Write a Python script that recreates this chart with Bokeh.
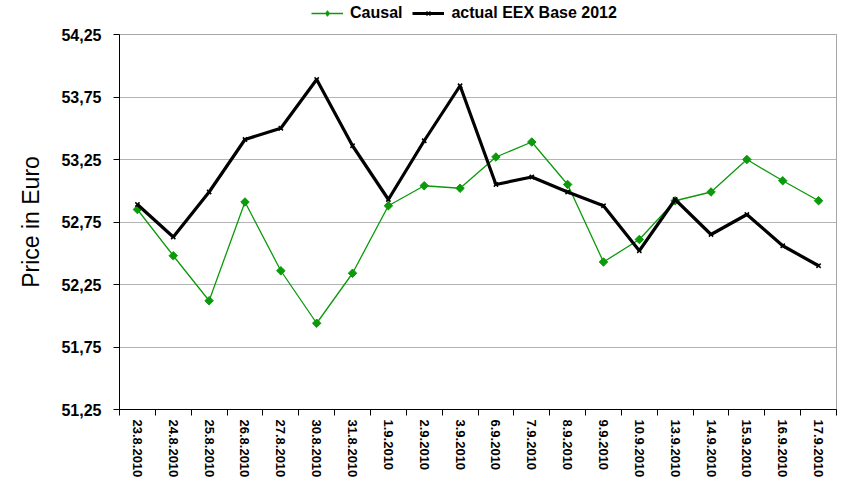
import math
from bokeh.plotting import figure
from bokeh.layouts import column
from bokeh.models import FixedTicker, Range1d, ColumnDataSource, Legend, LegendItem
from bokeh.embed import file_html
from bokeh.resources import INLINE

dates = ["23.8.2010", "24.8.2010", "25.8.2010", "26.8.2010", "27.8.2010",
         "30.8.2010", "31.8.2010", "1.9.2010", "2.9.2010", "3.9.2010",
         "6.9.2010", "7.9.2010", "8.9.2010", "9.9.2010", "10.9.2010",
         "13.9.2010", "14.9.2010", "15.9.2010", "16.9.2010", "17.9.2010"]
causal = [52.85, 52.48, 52.12, 52.91, 52.36, 51.94, 52.34, 52.88, 53.04, 53.02,
          53.27, 53.39, 53.05, 52.43, 52.61, 52.92, 52.99, 53.25, 53.08, 52.92]
actual = [52.89, 52.63, 52.99, 53.41, 53.50, 53.89, 53.36, 52.93, 53.40, 53.84,
          53.05, 53.11, 52.99, 52.88, 52.52, 52.93, 52.65, 52.81, 52.56, 52.40]
y_ticks = [51.25, 51.75, 52.25, 52.75, 53.25, 53.75, 54.25]
y_tick_labels = ["51,25", "51,75", "52,25", "52,75", "53,25", "53,75", "54,25"]
series_names = ["Causal", "actual EEX Base 2012"]

FONT = "Liberation Sans"
GREEN = "#0a9a0a"
n = len(dates)
xs = [i + 0.5 for i in range(n)]
src = ColumnDataSource(dict(x=xs, causal=causal, actual=actual))

# ---------- legend strip ----------
lf = figure(width=843, height=24, output_backend="svg", toolbar_location=None,
            x_range=Range1d(0, 1), y_range=Range1d(0, 1),
            min_border=0, min_border_left=0, min_border_right=0,
            min_border_top=0, min_border_bottom=0)
lf.axis.visible = False
lf.grid.grid_line_color = None
lf.outline_line_color = None
offscreen = ColumnDataSource(dict(x=[-10, -11], y=[-10, -11]))
l1 = lf.line("x", "y", source=offscreen, color=GREEN, line_width=1.3)
s1 = lf.scatter("x", "y", source=offscreen, marker="diamond", size=9, color=GREEN)
l2 = lf.line("x", "y", source=offscreen, color="black", line_width=3.2)
s2 = lf.scatter("x", "y", source=offscreen, marker="x", size=6, color="black",
                line_width=1.5)
leg = Legend(items=[LegendItem(label=series_names[0], renderers=[l1, s1]),
                    LegendItem(label=series_names[1], renderers=[l2, s2])],
             orientation="horizontal", location=(192, 2))
leg.label_text_font = FONT
leg.label_text_font_style = "bold"
leg.label_text_font_size = "16px"
leg.label_text_color = "black"
leg.border_line_color = None
leg.background_fill_alpha = 0
leg.glyph_width = 32
leg.glyph_height = 14
leg.label_height = 16
leg.spacing = 10
leg.padding = 2
leg.margin = 0
leg.label_standoff = 7
lf.add_layout(leg, "center")

# ---------- main chart ----------
p = figure(width=843, height=456, output_backend="svg", toolbar_location=None,
           x_range=Range1d(0, n), y_range=Range1d(51.25, 54.25),
           min_border_left=119, min_border_right=7, min_border_top=10,
           min_border_bottom=0)
p.background_fill_color = "white"
p.border_fill_color = "white"
p.outline_line_color = "#a6a6a6"

p.line("x", "causal", source=src, color=GREEN, line_width=1.3)
p.scatter("x", "causal", source=src, marker="square", angle=math.pi / 4, size=6,
          color=GREEN)
p.line("x", "actual", source=src, color="black", line_width=3.2)
p.scatter("x", "actual", source=src, marker="x", size=6, color="black", line_width=1.5)

# x axis: labels at category centres, tick marks at category boundaries
p.xaxis.ticker = FixedTicker(ticks=xs, minor_ticks=list(range(n + 1)))
p.xaxis.major_label_overrides = {x: d for x, d in zip(xs, dates)}
p.xaxis.major_label_orientation = -math.pi / 2
p.xaxis.major_label_text_font = FONT
p.xaxis.major_label_text_font_style = "bold"
p.xaxis.major_label_text_font_size = "13px"
p.xaxis.major_label_text_color = "black"
p.xaxis.major_label_standoff = 4
p.xaxis.major_tick_line_color = None
p.xaxis.major_tick_out = 6
p.xaxis.major_tick_in = 0
p.xaxis.minor_tick_line_color = "black"
p.xaxis.minor_tick_out = 6
p.xaxis.minor_tick_in = 0
p.xaxis.axis_line_color = "black"

p.yaxis.ticker = FixedTicker(ticks=y_ticks)
p.yaxis.major_label_overrides = {t: l for t, l in zip(y_ticks, y_tick_labels)}
p.yaxis.major_label_text_font = FONT
p.yaxis.major_label_text_font_style = "bold"
p.yaxis.major_label_text_font_size = "16px"
p.yaxis.major_label_text_color = "black"
p.yaxis.major_label_standoff = 12
p.yaxis.major_tick_out = 6
p.yaxis.major_tick_in = 0
p.yaxis.minor_tick_line_color = None
p.yaxis.axis_line_color = "black"
p.yaxis.axis_label = "Price in Euro"
p.yaxis.axis_label_text_font = FONT
p.yaxis.axis_label_text_font_style = "normal"
p.yaxis.axis_label_text_font_size = "23px"
p.yaxis.axis_label_text_color = "black"
p.yaxis.axis_label_standoff = 14

p.xgrid.grid_line_color = None
p.ygrid.grid_line_color = "#b4b4b4"
p.ygrid.grid_line_width = 1

layout = column(lf, p, spacing=0)
open("out.html", "w").write(file_html(layout, INLINE))
